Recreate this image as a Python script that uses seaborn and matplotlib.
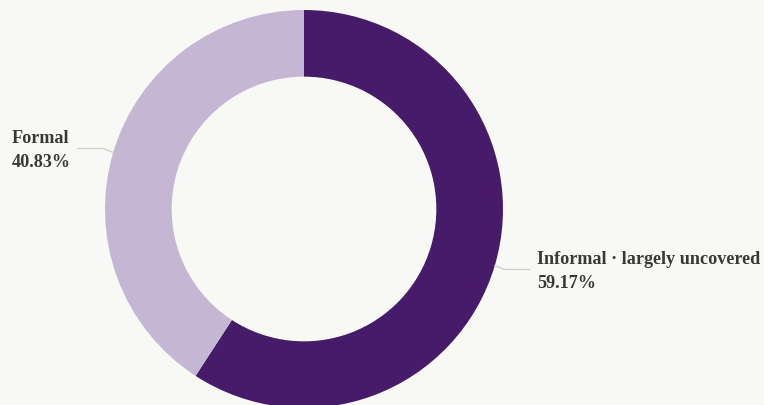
import numpy as np
import matplotlib
matplotlib.use('Agg')
import matplotlib.pyplot as plt
import seaborn as sns

# Data
labels = ['Informal · largely uncovered', 'Formal']
shares = [59.17, 40.83]
colors = ['#461c6a', '#c5b7d4']

bg = '#f8f8f4'
sns.set_theme(style='white', rc={'figure.facecolor': bg, 'axes.facecolor': bg})
plt.rcParams['font.family'] = ['Liberation Serif', 'DejaVu Serif']

W, H = 764, 406
cx, cy, R = 304, 210, 199  # pixel geometry of the donut

fig = plt.figure(figsize=(W / 100, H / 100), dpi=100)
ax = fig.add_axes([0, 0, 1, 1])

wedges, _ = ax.pie(shares, colors=colors, startangle=90, counterclock=False,
                   radius=1.0, wedgeprops=dict(width=0.335, linewidth=0))

# pie() resets the limits, so set them afterwards
ax.set_xlim(-cx / R, (W - cx) / R)
ax.set_ylim(-(H - cy) / R, cy / R)
ax.set_aspect('equal')
ax.axis('off')

# Leader lines and labels
for w, lab, val in zip(wedges, labels, shares):
    ang = np.deg2rad((w.theta1 + w.theta2) / 2)
    x0, y0 = np.cos(ang), np.sin(ang)
    side = 1 if x0 > 0 else -1
    x1, y1 = 1.05 * x0, 1.07 * y0
    x2 = x1 + side * 0.13
    ax.plot([x0, x1, x2], [y0, y1, y1], color='#d0d0cc', lw=1.0, solid_capstyle='round')
    if side > 0:
        tx = x2 + 0.035
    else:
        tx = -cx / R + 12 / R
    ax.text(tx, y1 - 0.005, f'{lab}\n{val:.2f}%', ha='left', va='center',
            fontsize=13.1, fontweight='bold', color='#383838', linespacing=1.5)

fig.savefig('out.png', dpi=100, facecolor=bg)
